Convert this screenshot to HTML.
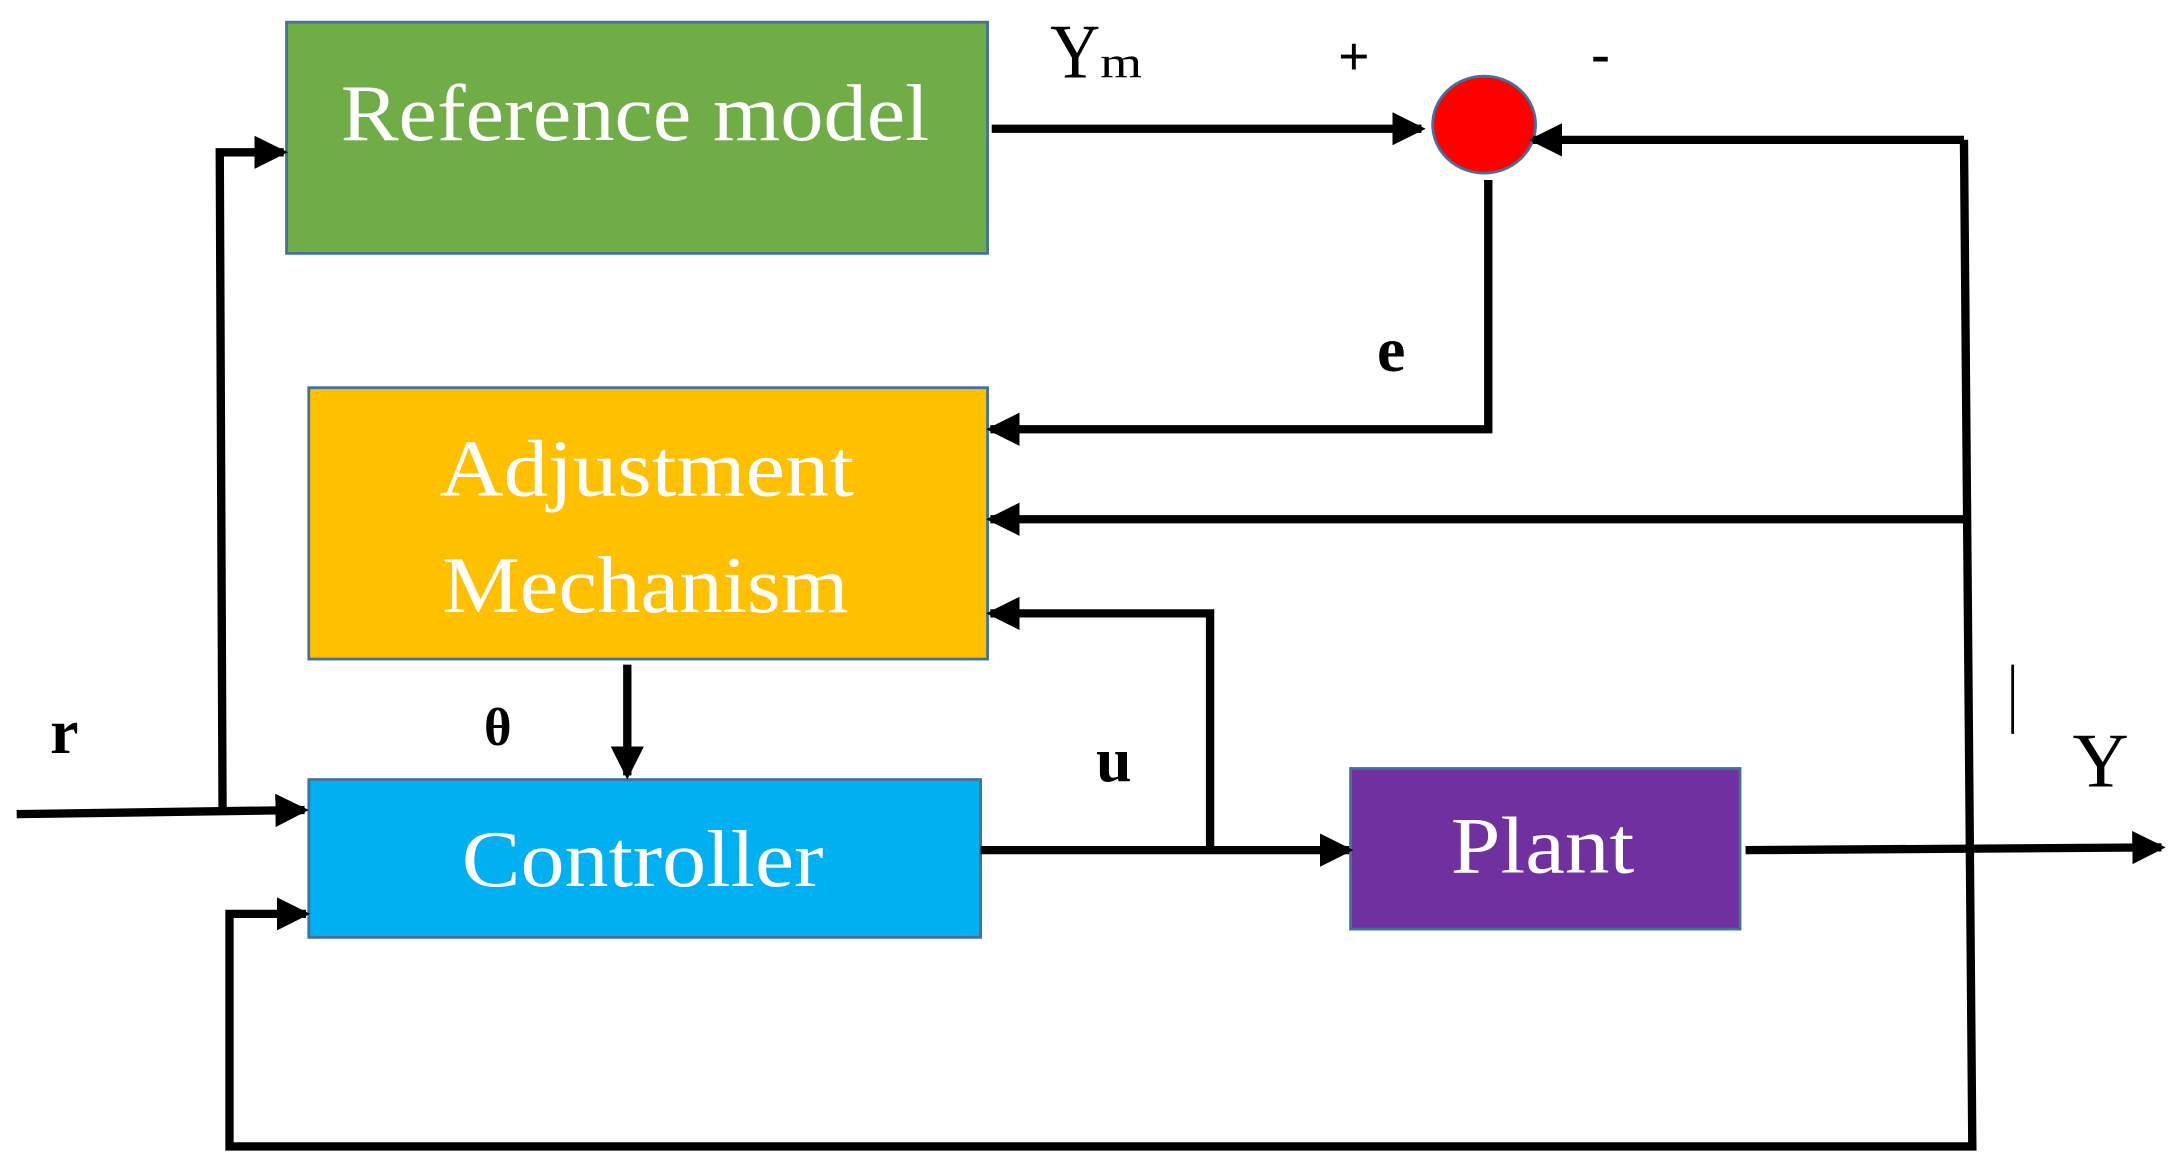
<!DOCTYPE html>
<html><head><style>html,body{margin:0;padding:0;background:#fff}svg{display:block}</style></head>
<body>
<svg width="2174" height="1170" viewBox="0 0 1563 845" preserveAspectRatio="none" xmlns="http://www.w3.org/2000/svg">
<defs>
<marker id="b" markerWidth="4" markerHeight="4" refX="3.5" refY="2" orient="auto" markerUnits="strokeWidth">
<path d="M0,0 L4,2 L0,4 Z" fill="#000"/></marker>
</defs>
<g stroke="#41719C" stroke-width="2">
<rect x="206" y="16" width="504" height="167" fill="#70AD47"/>
<rect x="222" y="280" width="488" height="196" fill="#FFC000"/>
<rect x="222" y="563" width="483" height="114" fill="#00B0F0"/>
<rect x="971" y="555" width="280" height="116" fill="#7030A0"/>
<ellipse cx="1067" cy="90" rx="37" ry="35" fill="#FF0000"/>
</g>
<g fill="none" stroke="#000" stroke-width="6">
<line x1="713" y1="93" x2="1022" y2="93" marker-end="url(#b)"/>
<polyline points="1412,101 1418,828 165,828 165,660 220,660" marker-end="url(#b)"/>
<line x1="1412" y1="101" x2="1102" y2="101" marker-end="url(#b)"/>
<polyline points="1070,130 1070,310 712,310" marker-end="url(#b)"/>
<line x1="1414" y1="375" x2="712" y2="375" marker-end="url(#b)"/>
<polyline points="870,612 870,443 712,443" marker-end="url(#b)"/>
<line x1="705" y1="614" x2="970" y2="614" marker-end="url(#b)"/>
<line x1="1255" y1="614" x2="1554" y2="612" marker-end="url(#b)"/>
<line x1="12" y1="588" x2="219" y2="585" marker-end="url(#b)"/>
<polyline points="160,585 158,110 204,110" marker-end="url(#b)"/>
<line x1="451" y1="480" x2="451" y2="560" marker-end="url(#b)"/>
</g>
<line x1="1447" y1="480" x2="1447" y2="530" stroke="#000" stroke-width="2"/>
<g font-family="Liberation Serif, serif" fill="#fff" font-size="58" lengthAdjust="spacingAndGlyphs">
<text x="245" y="101" textLength="423" lengthAdjust="spacingAndGlyphs">Reference model</text>
<text x="316" y="358" textLength="298" lengthAdjust="spacingAndGlyphs">Adjustment</text>
<text x="318" y="442" textLength="292" lengthAdjust="spacingAndGlyphs">Mechanism</text>
<text x="332" y="640" textLength="260" lengthAdjust="spacingAndGlyphs">Controller</text>
<text x="1043" y="630" textLength="132" lengthAdjust="spacingAndGlyphs">Plant</text>
</g>
<g font-family="Liberation Serif, serif" fill="#000">
<text x="755" y="56" font-size="56" textLength="36" lengthAdjust="spacingAndGlyphs">Y</text>
<text x="791" y="56" font-size="32" textLength="30" lengthAdjust="spacingAndGlyphs">m</text>
<text x="962" y="54" font-size="40" font-weight="bold">+</text>
<text x="1144" y="52" font-size="40" font-weight="bold">-</text>
<text x="990" y="268" font-size="46" font-weight="bold">e</text>
<text x="36" y="544" font-size="46" font-weight="bold">r</text>
<text x="348" y="538" font-size="38" font-weight="bold">θ</text>
<text x="788" y="564" font-size="46" font-weight="bold">u</text>
<text x="1490" y="568" font-size="56">Y</text>
</g>
</svg>
</body></html>
